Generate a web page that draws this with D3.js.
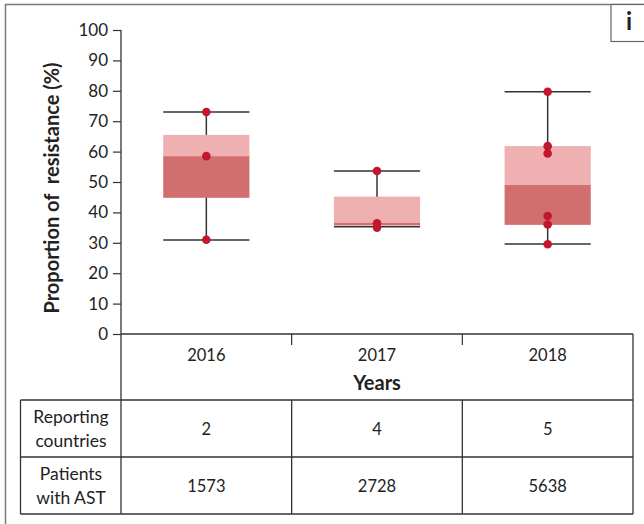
<!DOCTYPE html>
<html>
<head>
<meta charset="utf-8">
<script src="https://cdn.jsdelivr.net/npm/d3@7"></script>
<style>
  html, body { margin: 0; padding: 0; background: #fff; }
  svg { display: block; font-family: Lato, "Open Sans", sans-serif; }
  text { white-space: pre; }
</style>
</head>
<body>
<svg id="chart" width="644" height="524"></svg>
<script>
// Resistance proportions by year (box summary + per-country points)
const years = ["2016", "2017", "2018"];
const whiskerLow  = [30.9, 35.3, 29.6];
const q1          = [44.8, 35.7, 35.9];
const median      = [58.5, 36.6, 49.0];
const q3          = [65.5, 45.2, 61.8];
const whiskerHigh = [73.0, 53.6, 79.7];
const points = [
  [73.0, 58.5, 31.0],
  [53.6, 36.4, 35.0],
  [79.7, 61.8, 59.4, 38.8, 36.0, 29.5]
];
const yTicks = [0, 10, 20, 30, 40, 50, 60, 70, 80, 90, 100];
const rowLabels = [["Reporting", "countries"], ["Patients", "with AST"]];
const reportingCountries = [2, 4, 5];
const patientsWithAST = [1573, 2728, 5638];

const svg = d3.select("#chart");
const ink = "#333";
const light = "#EEB0B0";
const dark = "#D16E6E";
const dotColor = "#C3172F";
const font = "Lato, sans-serif";

// outer panel frame and panel tag
svg.append("rect").attr("x", 5.5).attr("y", 4.5).attr("width", 660).attr("height", 540)
  .attr("fill", "none").attr("stroke", "#7a7a7a").attr("stroke-width", 1.5);
svg.append("rect").attr("x", 611).attr("y", 4.5).attr("width", 50).attr("height", 37)
  .attr("fill", "#fff").attr("stroke", "#666").attr("stroke-width", 1.2);
svg.append("text").attr("x", 629).attr("y", 30).attr("text-anchor", "middle")
  .style("font-size", "24px").style("font-weight", 700).attr("fill", "#222").text("i");

const y = d3.scaleLinear().domain([0, 100]).range([334, 30]);
const x = d3.scaleBand().domain(years).range([121, 633]).padding(0);
const bw = x.bandwidth();
const boxW = bw * 0.505;

// y axis
const yAxis = svg.append("g").attr("transform", "translate(121,0)")
  .call(d3.axisLeft(y).tickValues(yTicks).tickSize(8).tickPadding(5));
yAxis.select(".domain").remove();
yAxis.selectAll(".tick line").attr("stroke", ink).attr("stroke-width", 1.2);
yAxis.selectAll(".tick text")
  .style("font-size", "17px").style("font-family", font).attr("fill", "#222");
svg.append("line").attr("x1", 121).attr("x2", 121).attr("y1", y(100)).attr("y2", 400)
  .attr("stroke", ink).attr("stroke-width", 1.3);

svg.append("text")
  .attr("transform", `translate(59,${(y(100) + y(0)) / 2 + 6}) rotate(-90)`)
  .attr("text-anchor", "middle").style("font-size", "20px").style("font-weight", 700)
  .attr("fill", "#222").text("Proportion of  resistance (%)");

// x axis and category frame
svg.append("line").attr("x1", 121).attr("x2", 633).attr("y1", y(0)).attr("y2", y(0))
  .attr("stroke", ink).attr("stroke-width", 1.3);
years.slice(1).forEach(yr => {
  svg.append("line").attr("x1", x(yr)).attr("x2", x(yr)).attr("y1", y(0)).attr("y2", 345)
    .attr("stroke", ink).attr("stroke-width", 1.2);
});
svg.append("line").attr("x1", 633).attr("x2", 633).attr("y1", y(0)).attr("y2", 514)
  .attr("stroke", ink).attr("stroke-width", 1.3);
years.forEach(yr => {
  svg.append("text").attr("x", x(yr) + bw / 2).attr("y", 361).attr("text-anchor", "middle")
    .style("font-size", "16.5px").attr("fill", "#222").text(yr);
});
svg.append("text").attr("x", x("2017") + bw / 2).attr("y", 390).attr("text-anchor", "middle")
  .style("font-size", "20px").style("font-weight", 700).attr("fill", "#222").text("Years");

// boxes
const g = svg.append("g");
years.forEach((yr, i) => {
  const cx = x(yr) + bw / 2;
  const x0 = cx - boxW / 2;
  // whisker stem
  g.append("line").attr("x1", cx).attr("x2", cx).attr("y1", y(whiskerHigh[i])).attr("y2", y(whiskerLow[i]))
    .attr("stroke", ink).attr("stroke-width", 1.5);
  // upper (median→Q3) and lower (Q1→median) boxes
  g.append("rect").attr("x", x0).attr("width", boxW)
    .attr("y", y(q3[i])).attr("height", y(median[i]) - y(q3[i])).attr("fill", light);
  g.append("rect").attr("x", x0).attr("width", boxW)
    .attr("y", y(median[i])).attr("height", y(q1[i]) - y(median[i])).attr("fill", dark);
  // caps
  [whiskerHigh[i], whiskerLow[i]].forEach(v => {
    g.append("line").attr("x1", x0).attr("x2", x0 + boxW).attr("y1", y(v)).attr("y2", y(v))
      .attr("stroke", ink).attr("stroke-width", 1.5);
  });
  // per-country points
  points[i].forEach(v => {
    g.append("circle").attr("cx", cx).attr("cy", y(v)).attr("r", 4.3).attr("fill", dotColor);
  });
});

// data table below the axis
const tLeft = 20.5, tTop = 400, rowH = 57, tRight = 633;
[tTop, tTop + rowH, tTop + 2 * rowH].forEach(yy => {
  svg.append("line").attr("x1", tLeft).attr("x2", tRight).attr("y1", yy).attr("y2", yy)
    .attr("stroke", ink).attr("stroke-width", 1.3);
});
[tLeft, 121, x("2017"), x("2018")].forEach(xx => {
  svg.append("line").attr("x1", xx).attr("x2", xx).attr("y1", tTop).attr("y2", tTop + 2 * rowH)
    .attr("stroke", ink).attr("stroke-width", 1.3);
});
rowLabels.forEach((lines, r) => {
  const cy = tTop + r * rowH + rowH / 2;
  lines.forEach((t, k) => {
    svg.append("text").attr("x", 71).attr("y", cy - 6 + k * 24).attr("text-anchor", "middle")
      .style("font-size", "17.5px").attr("fill", "#222").text(t);
  });
});
[reportingCountries, patientsWithAST].forEach((row, r) => {
  const cy = tTop + r * rowH + rowH / 2;
  years.forEach((yr, i) => {
    svg.append("text").attr("x", x(yr) + bw / 2).attr("y", cy + 6).attr("text-anchor", "middle")
      .style("font-size", "16.5px").attr("fill", "#222").text(row[i]);
  });
});
</script>
</body>
</html>
